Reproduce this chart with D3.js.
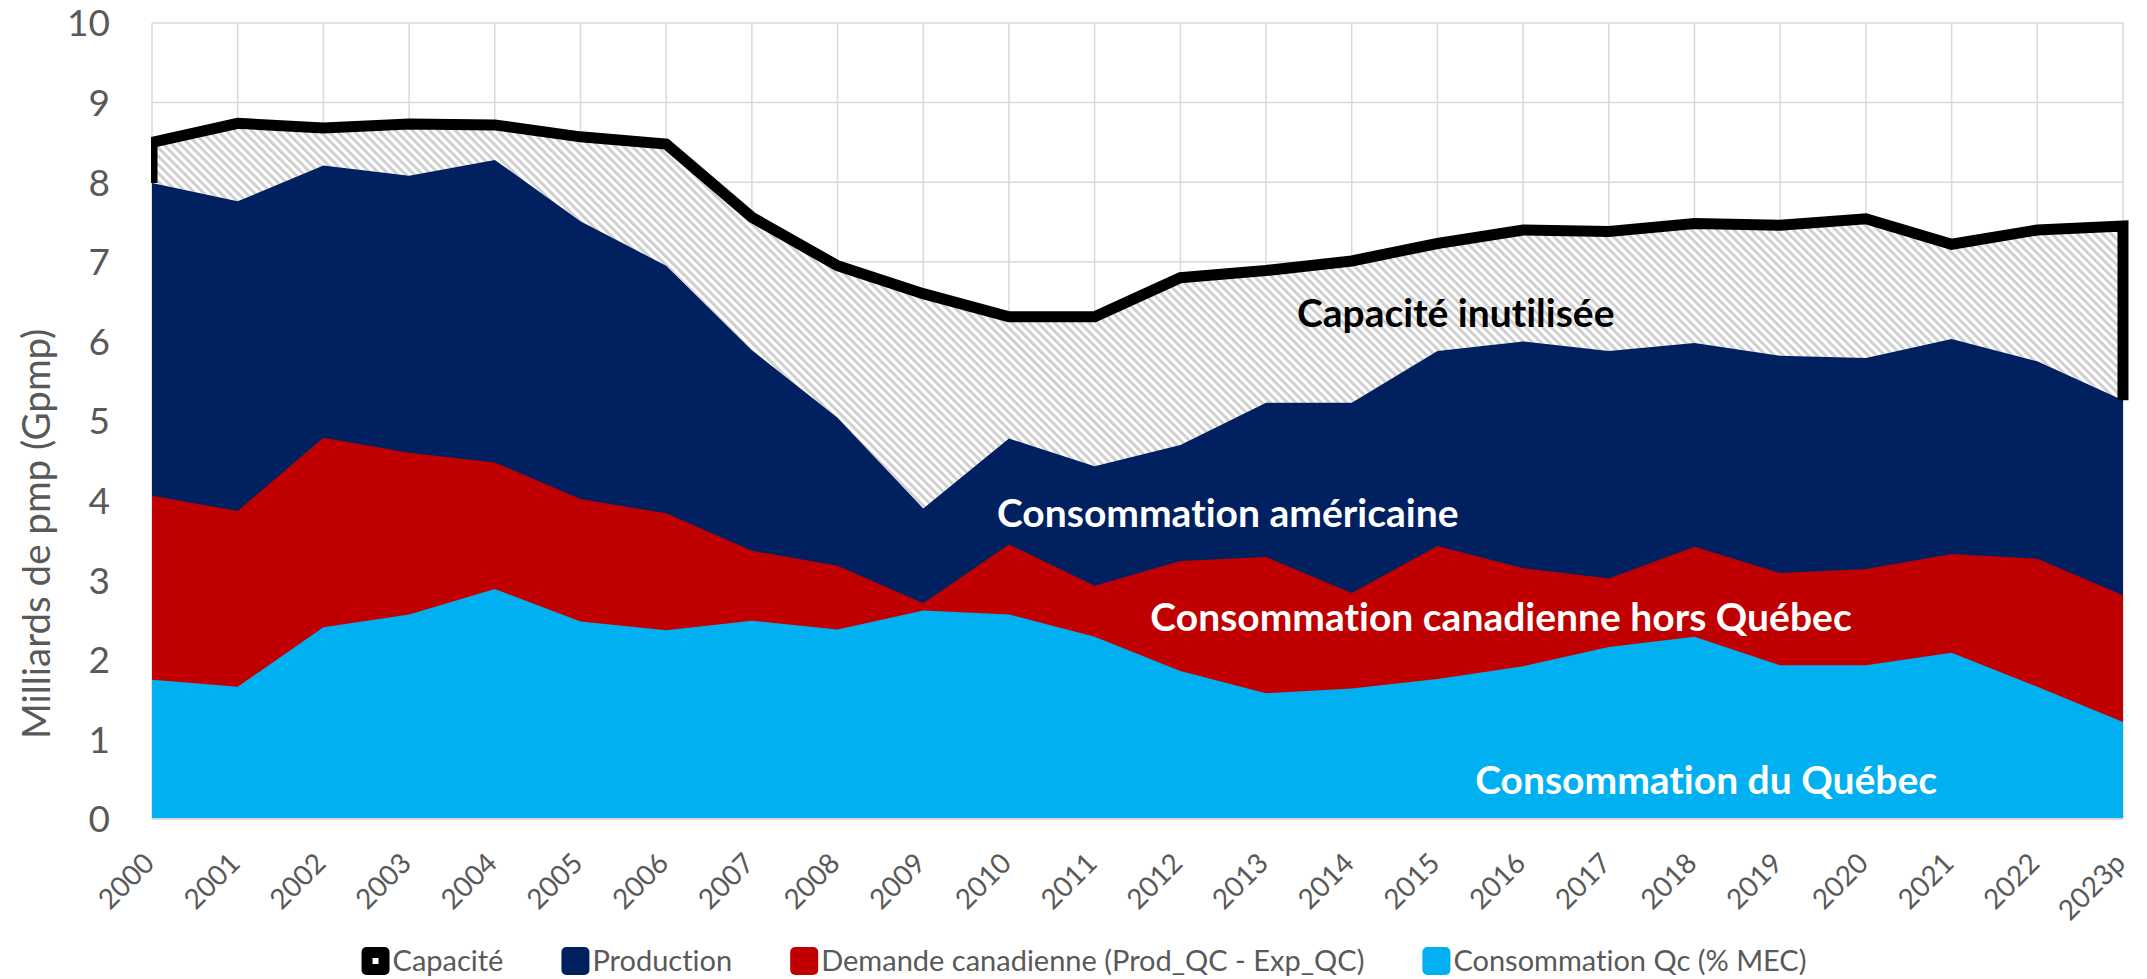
<!DOCTYPE html>
<html>
<head>
<meta charset="utf-8">
<script src="https://cdn.jsdelivr.net/npm/d3@7"></script>
<style>
  body { margin: 0; background: #fff; }
  svg { display: block; font-family: Lato, "Open Sans", sans-serif; font-variant-ligatures: none; }
</style>
</head>
<body>
<svg id="chart"></svg>
<script>
var width = 2147, height = 979

// values in Gpmp
var years = ["2000", "2001", "2002", "2003", "2004", "2005", "2006", "2007", "2008", "2009", "2010", "2011",
    "2012", "2013", "2014", "2015", "2016", "2017", "2018", "2019", "2020", "2021", "2022", "2023p"]
var capacite = [8.50, 8.74, 8.68, 8.73, 8.72, 8.57, 8.48, 7.56, 6.95, 6.60, 6.31, 6.31,
    6.80, 6.89, 7.01, 7.23, 7.40, 7.38, 7.48, 7.46, 7.54, 7.22, 7.40, 7.45]
var production = [7.99, 7.76, 8.21, 8.08, 8.28, 7.51, 6.95, 5.89, 5.04, 3.90, 4.78, 4.43,
    4.70, 5.23, 5.23, 5.88, 6.00, 5.88, 5.98, 5.82, 5.79, 6.03, 5.75, 5.26]
var demandeCan = [4.06, 3.87, 4.79, 4.60, 4.48, 4.02, 3.84, 3.37, 3.18, 2.71, 3.45, 2.93,
    3.24, 3.29, 2.84, 3.43, 3.15, 3.02, 3.42, 3.09, 3.14, 3.33, 3.27, 2.81]
var consoQc = [1.75, 1.66, 2.41, 2.57, 2.89, 2.48, 2.37, 2.49, 2.38, 2.62, 2.57, 2.29,
    1.86, 1.58, 1.64, 1.76, 1.92, 2.16, 2.29, 1.93, 1.93, 2.09, 1.66, 1.22]
var yTicks = [0, 1, 2, 3, 4, 5, 6, 7, 8, 9, 10]

var legendNames = ["Capacité", "Production", "Demande canadienne (Prod_QC - Exp_QC)", "Consommation Qc (% MEC)"]
var legendColors = ["#000000", "#002060", "#C00000", "#00B0F0"]

// in-chart labels: [text, year index, value, colour]
var labels = [
    ["Capacité inutilisée", 13.36, 6.18, "#000"],
    ["Consommation américaine", 9.86, 3.67, "#fff"],
    ["Consommation canadienne hors Québec", 11.65, 2.36, "#fff"],
    ["Consommation du Québec", 15.44, 0.31, "#fff"]
]

var pLeft = 152, pRight = 2123, pTop = 23, pBottom = 819

var svg = d3.select("#chart")
    .attr("width", width)
    .attr("height", height)

var x = d3.scalePoint()
    .domain(years)
    .range([pLeft, pRight])
var xi = d3.scaleLinear()
    .domain([0, years.length - 1])
    .range([pLeft, pRight])
var y = d3.scaleLinear()
    .domain([0, 10])
    .range([pBottom, pTop])

var defs = svg.append("defs")
var pat = defs.append("pattern")
    .attr("id", "hatch")
    .attr("patternUnits", "userSpaceOnUse")
    .attr("width", 6)
    .attr("height", 6)
    .attr("patternTransform", "rotate(-45)")
pat.append("rect")
    .attr("width", 6).attr("height", 6)
    .attr("fill", "#fff")
pat.append("rect")
    .attr("width", 3).attr("height", 6)
    .attr("fill", "#d0d0d0")

defs.append("clipPath")
    .attr("id", "plotclip")
    .append("rect")
        .attr("x", pLeft - 1).attr("y", 0)
        .attr("width", width - pLeft).attr("height", pBottom + 2)

// grid
var grid = svg.append("g")
grid.selectAll("line.h")
    .data(yTicks)
    .enter().append("line")
        .attr("x1", pLeft).attr("x2", pRight)
        .attr("y1", d => y(d)).attr("y2", d => y(d))
        .attr("stroke", "#d9d9d9")
        .attr("stroke-width", 1.5)
grid.selectAll("line.v")
    .data(years)
    .enter().append("line")
        .attr("x1", d => x(d)).attr("x2", d => x(d))
        .attr("y1", pTop).attr("y2", pBottom)
        .attr("stroke", "#d9d9d9")
        .attr("stroke-width", 1.5)

var idx = d3.range(years.length)

function areaFrom(arr) {
    return d3.area()
        .x(i => x(years[i]))
        .y0(y(0))
        .y1(i => y(arr[i]))(idx)
}

var plot = svg.append("g").attr("clip-path", "url(#plotclip)")

// unused capacity (hatched) between production and capacity
plot.append("path")
    .attr("d", d3.area()
        .x(i => x(years[i]))
        .y0(i => y(production[i]))
        .y1(i => y(capacite[i]))(idx))
    .attr("fill", "url(#hatch)")

plot.append("path").attr("d", areaFrom(production)).attr("fill", "#002060")
plot.append("path").attr("d", areaFrom(demandeCan)).attr("fill", "#C00000")
plot.append("path").attr("d", areaFrom(consoQc)).attr("fill", "#00B0F0")

// capacity outline: top plus the two sides down to production
var outline = [[x(years[0]), y(production[0])]]
idx.forEach(i => outline.push([x(years[i]), y(capacite[i])]))
var last = years.length - 1
outline.push([x(years[last]), y(production[last])])
plot.append("path")
    .attr("d", d3.line()(outline))
    .attr("fill", "none")
    .attr("stroke", "#000")
    .attr("stroke-width", 11)
    .attr("stroke-linejoin", "miter")

// x axis line
svg.append("line")
    .attr("x1", pLeft).attr("x2", pRight)
    .attr("y1", pBottom).attr("y2", pBottom)
    .attr("stroke", "#d9d9d9")
    .attr("stroke-width", 2)

// y tick labels
svg.append("g").selectAll("text")
    .data(yTicks)
    .enter().append("text")
        .attr("x", 110)
        .attr("y", d => y(d))
        .attr("dy", "0.36em")
        .attr("text-anchor", "end")
        .attr("fill", "#595959")
        .style("font-size", "37px")
        .text(d => d)

// x tick labels
svg.append("g").selectAll("text")
    .data(years)
    .enter().append("text")
        .attr("transform", d => "translate(" + (x(d) + 4) + "," + (pBottom + 46) + ") rotate(-45)")
        .attr("text-anchor", "end")
        .attr("fill", "#595959")
        .style("font-size", "28px")
        .text(d => d)

// y axis title
svg.append("text")
    .attr("transform", "translate(50,739) rotate(-90)")
    .attr("text-anchor", "start")
    .attr("fill", "#595959")
    .style("font-size", "38.5px")
    .text("Milliards de pmp (Gpmp)")

// labels in the chart
svg.append("g").selectAll("text")
    .data(labels)
    .enter().append("text")
        .attr("x", d => xi(d[1]))
        .attr("y", d => y(d[2]))
        .attr("fill", d => d[3])
        .style("font-size", "39px")
        .style("font-weight", "bold")
        .text(d => d[0])

// legend
var legend = svg.append("g")
var lx = 0
var items = legend.selectAll("g")
    .data(legendNames)
    .enter().append("g")
items.append("rect")
    .attr("width", 28).attr("height", 28)
    .attr("y", -14)
    .attr("rx", 5)
    .attr("fill", (d, i) => legendColors[i])
items.filter((d, i) => i == 0).append("rect")
    .attr("x", 11).attr("y", -3)
    .attr("width", 6).attr("height", 6)
    .attr("fill", "#fff")
items.append("text")
    .attr("x", 31)
    .attr("y", 10)
    .attr("fill", "#595959")
    .style("font-size", "29px")
    .text(d => d)
items.each(function() {
    var w = this.getBBox().width
    d3.select(this).attr("transform", "translate(" + lx + ",0)")
    lx += w + 58
})
lx -= 58
legend.attr("transform", "translate(" + (1084 - lx / 2) + ",961)")
</script>
</body>
</html>
